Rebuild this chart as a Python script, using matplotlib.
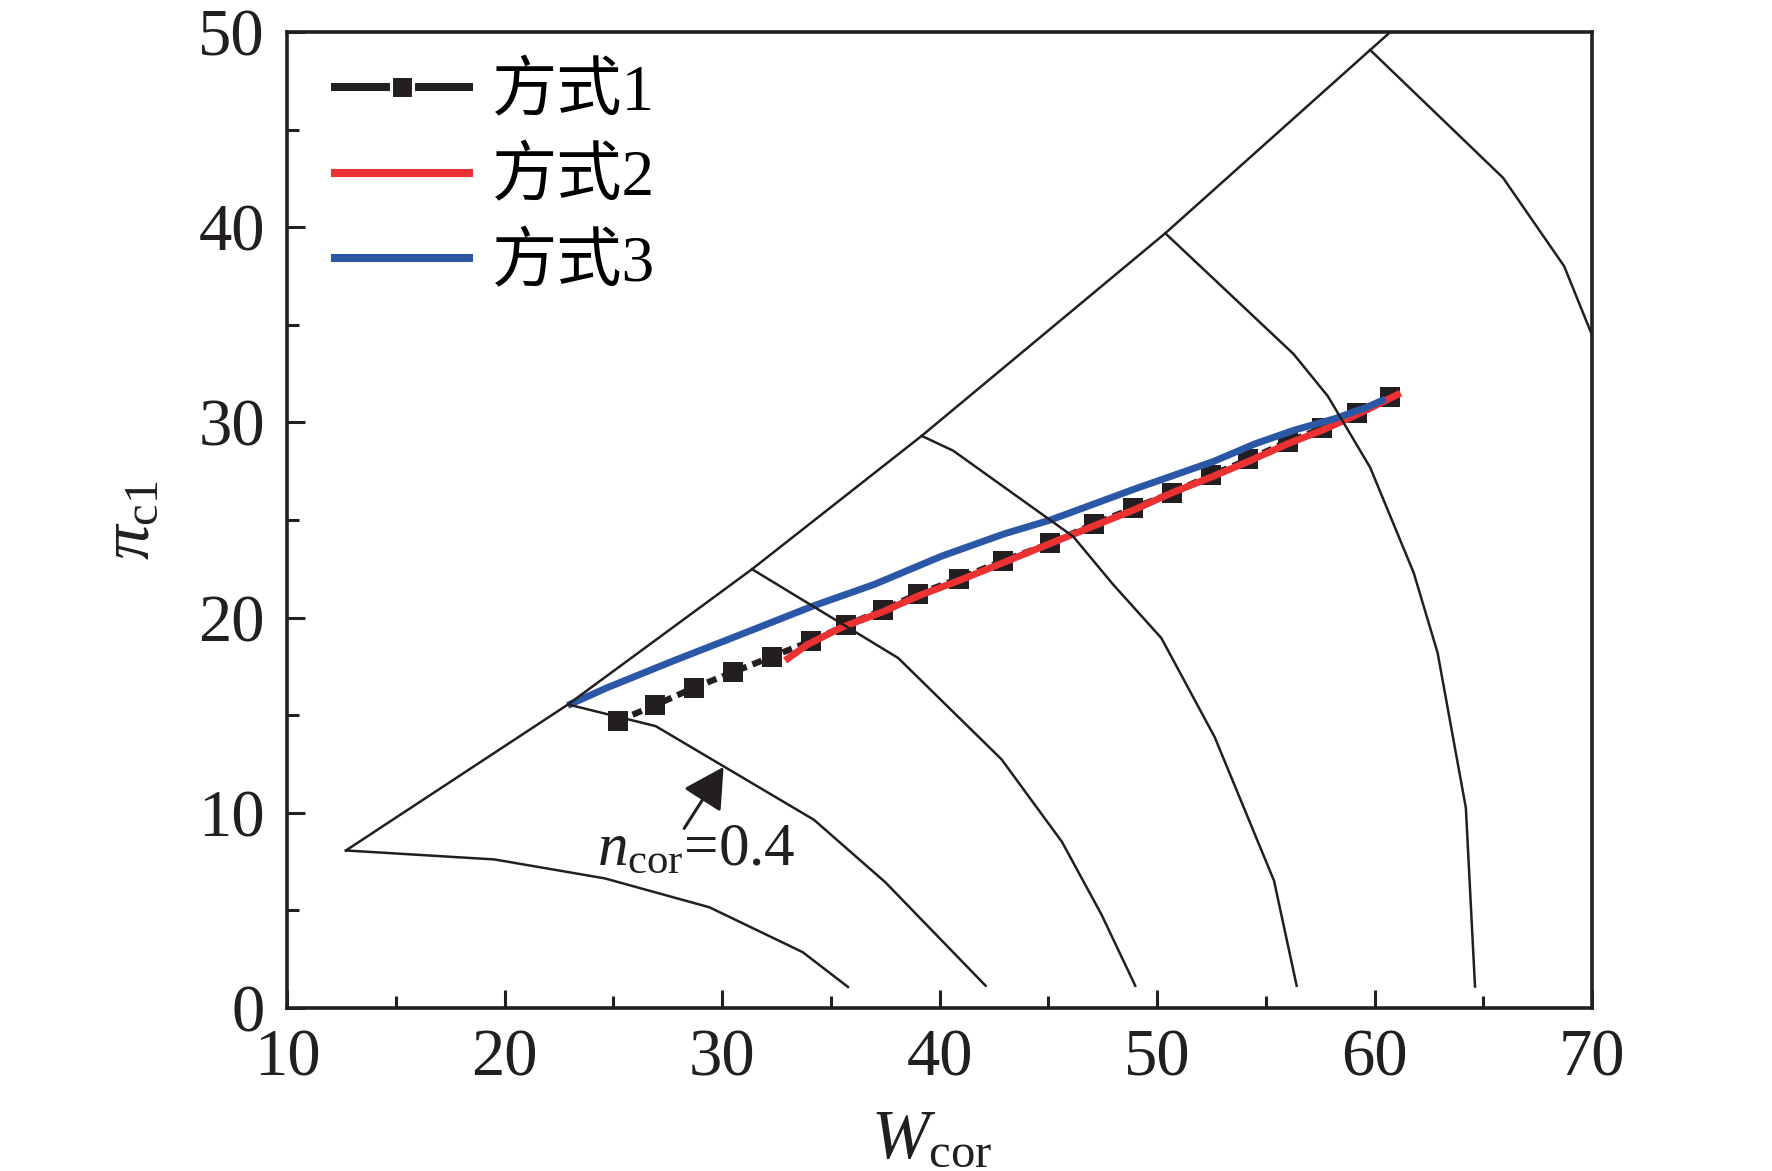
import matplotlib
matplotlib.use('Agg')
import matplotlib.pyplot as plt
from matplotlib.lines import Line2D
from matplotlib.ticker import MultipleLocator

plt.rcParams['font.family'] = ['Liberation Serif', 'Noto Sans CJK SC', 'DejaVu Sans']
plt.rcParams['mathtext.fontset'] = 'custom'
plt.rcParams['mathtext.rm'] = 'Liberation Serif'
plt.rcParams['mathtext.it'] = 'Liberation Serif:italic'
plt.rcParams['mathtext.bf'] = 'Liberation Serif:bold'

# ---------------- data ----------------
series_labels = ['方式1', '方式2', '方式3']

x_mode1 = [25.2, 26.9, 28.7, 30.5, 32.3, 34.1, 35.7, 37.4, 39.0, 40.9, 42.9,
           45.1, 47.1, 48.9, 50.7, 52.5, 54.2, 56.0, 57.6, 59.2, 60.7]
y_mode1 = [14.7, 15.5, 16.4, 17.2, 18.0, 18.8, 19.6, 20.4, 21.2, 22.0, 22.9,
           23.8, 24.8, 25.6, 26.4, 27.3, 28.1, 29.0, 29.7, 30.5, 31.3]

x_mode2 = [32.9, 33.9, 35.5, 37.4, 39.0, 40.9, 42.9, 45.1, 47.1, 48.9, 50.7,
           52.5, 54.2, 56.0, 57.6, 59.2, 61.2]
y_mode2 = [17.8, 18.6, 19.5, 20.3, 21.1, 21.9, 22.8, 23.8, 24.7, 25.5, 26.4,
           27.2, 28.0, 28.9, 29.6, 30.4, 31.5]

x_mode3 = [22.9, 24.7, 27.8, 30.9, 34.2, 37.0, 40.1, 43.0, 45.1, 49.0, 50.8,
           52.6, 54.5, 56.3, 58.2, 59.7, 60.5]
y_mode3 = [15.5, 16.4, 17.8, 19.15, 20.6, 21.7, 23.15, 24.3, 25.0, 26.6, 27.3,
           28.0, 28.9, 29.6, 30.2, 30.8, 31.2]

# surge line
x_surge = [12.71, 22.92, 31.38, 39.18, 50.38, 59.80, 60.73]
y_surge = [8.07, 15.55, 22.48, 29.31, 39.69, 49.08, 50.0]

# constant speed lines
speed_x = [
    [12.71, 19.54, 24.61, 29.42, 33.71, 35.79],
    [22.92, 26.95, 34.23, 37.50, 42.12],
    [31.38, 38.10, 42.85, 45.63, 47.45, 49.00],
    [39.18, 40.63, 46.15, 47.97, 50.20, 52.65, 55.38, 56.42],
    [50.38, 56.28, 57.85, 59.80, 61.80, 62.90, 64.20, 64.62],
    [59.80, 65.91, 68.72, 70.07],
]
speed_y = [
    [8.07, 7.61, 6.64, 5.16, 2.86, 1.08],
    [15.55, 14.44, 9.64, 6.45, 1.14],
    [22.48, 17.93, 12.74, 8.51, 4.78, 1.14],
    [29.31, 28.55, 24.15, 21.71, 18.95, 13.88, 6.52, 1.14],
    [39.69, 33.50, 31.35, 27.69, 22.30, 18.20, 10.25, 1.10],
    [49.08, 42.53, 38.00, 34.28],
]

annot_text = r'$n_{\mathrm{cor}}$=0.4'
annot_tip = (30.07, 12.35)
annot_tail = (28.26, 9.2)
annot_pos = (24.25, 7.35)

x_ticks = [10, 20, 30, 40, 50, 60, 70]
y_ticks = [0, 10, 20, 30, 40, 50]

# ---------------- style ----------------
INK = '#231f20'
RED = '#ec3133'
BLUE = '#2b57a7'

fig = plt.figure(figsize=(17.72, 11.71), dpi=100)
ax = fig.add_axes([0.16197, 0.13920, 0.73646, 0.83347])

for xs, ys in zip(speed_x, speed_y):
    ax.plot(xs, ys, color=INK, lw=1.8, zorder=5)
ax.plot(x_surge, y_surge, color=INK, lw=1.8, zorder=5)

ax.plot(x_mode1, y_mode1, color=INK, lw=4.5, ls=(0, (1.6, 1.0)),
        marker='s', ms=14, mfc=INK, mec=INK, mew=0, zorder=2)
ax.plot(x_mode2, y_mode2, color=RED, lw=5, solid_capstyle='butt', zorder=3)
ax.plot(x_mode3, y_mode3, color=BLUE, lw=5, solid_capstyle='butt', zorder=4)

ax.annotate('', xy=annot_tip, xytext=annot_tail,
            arrowprops=dict(arrowstyle='-|>,head_length=1.0,head_width=0.55',
                            mutation_scale=25, lw=2.2, color=INK,
                            shrinkA=0, shrinkB=0), zorder=6)
ax.text(annot_pos[0], annot_pos[1], annot_text, fontsize=44, color=INK,
        va='baseline', ha='left', zorder=6)

ax.set_xlim(10, 70)
ax.set_ylim(0, 50)
ax.set_xticks(x_ticks)
ax.set_yticks(y_ticks)
ax.xaxis.set_minor_locator(MultipleLocator(5))
ax.yaxis.set_minor_locator(MultipleLocator(5))
ax.tick_params(which='both', direction='in', top=False, right=False,
               color=INK, width=2.2, labelcolor=INK, labelsize=48)
ax.tick_params(which='major', length=13)
ax.tick_params(which='minor', length=8.6)
ax.tick_params(axis='x', pad=15)
ax.tick_params(axis='y', pad=16)
for sp in ax.spines.values():
    sp.set_linewidth(2.6)
    sp.set_color(INK)

ax.set_xlabel(r'$W_{\mathrm{cor}}$', fontsize=50, color=INK)
ax.set_ylabel(r'$\pi_{\mathrm{c1}}$', fontsize=50, color=INK)
ax.xaxis.set_label_coords(0.494, -0.103)
ax.yaxis.set_label_coords(-0.095, 0.5)

handles = [
    Line2D([], [], color=INK, lw=5.8, ls='-', marker='s', ms=15.8,
           mfc=INK, mec='white', mew=2.2),
    Line2D([], [], color=RED, lw=5.8),
    Line2D([], [], color=BLUE, lw=5.8),
]
ax.legend(handles, series_labels, loc='upper left',
          bbox_to_anchor=(0.0368, 0.968), frameon=False, fontsize=47,
          handlelength=2.05, handletextpad=0.36, labelspacing=0.37,
          borderpad=0, borderaxespad=0, numpoints=1)

fig.savefig('out.png', dpi=100)
